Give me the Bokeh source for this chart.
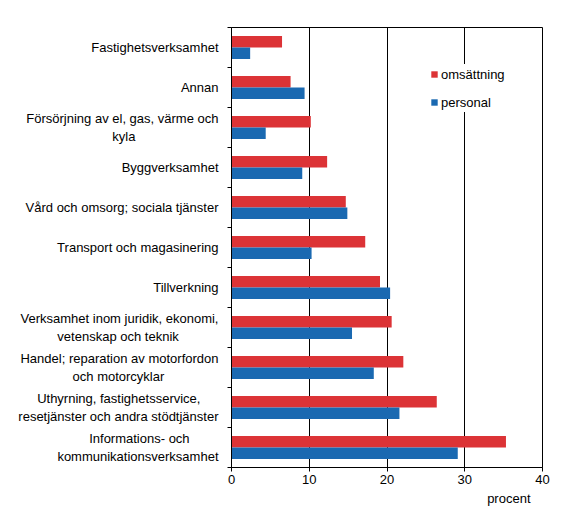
import numpy as np
from bokeh.embed import file_html
from bokeh.resources import INLINE
from bokeh.plotting import figure
from bokeh.models import ColumnDataSource, FixedTicker, Range1d, Legend, Title

# branscher, uppifrån och ned
branscher = [
    "Fastighetsverksamhet",
    "Annan",
    "Försörjning av el, gas, värme och\nkyla",
    "Byggverksamhet",
    "Vård och omsorg; sociala tjänster",
    "Transport och magasinering",
    "Tillverkning",
    "Verksamhet inom juridik, ekonomi,\nvetenskap och teknik",
    "Handel; reparation av motorfordon\noch motorcyklar",
    "Uthyrning, fastighetsservice,\nresetjänster och andra stödtjänster",
    "Informations- och\nkommunikationsverksamhet",
]
omsattning = [6.5, 7.6, 10.2, 12.3, 14.7, 17.2, 19.1, 20.6, 22.1, 26.4, 35.3]
personal = [2.4, 9.4, 4.4, 9.1, 14.9, 10.3, 20.4, 15.5, 18.3, 21.6, 29.1]
x_ticks = [0, 10, 20, 30, 40]

RED = "#dc3336"
BLUE = "#1a69b1"
FONT = "Liberation Sans"

# ungefärliga teckenbredder (Arial/Liberation Sans, 1/1000 em) för att
# centrera raderna i tvåradiga etiketter (axeln högerjusterar varje rad)
W = dict(zip(" ,;-", [278, 278, 278, 333]))
W.update({c: 556 for c in "abdeghnopquäöå"})
W.update({c: 500 for c in "cksvxyz"})
W.update({c: 222 for c in "ijl"})
W.update({"f": 278, "t": 278, "r": 333, "m": 833, "w": 722})
W.update({"F": 611, "V": 667, "H": 722, "U": 722, "I": 278, "T": 611, "B": 667, "A": 667})


def width(s):
    return sum(W.get(c, 556) for c in s)


def center_lines(label):
    lines = label.split("\n")
    if len(lines) == 1:
        return label
    wmax = max(width(l) for l in lines)
    out = []
    for l in lines:
        pad = int(round((wmax - width(l)) / 2 / 278))
        out.append(l + "\u00a0" * pad)
    return "\n".join(out)


n = len(branscher)
mid = np.arange(n) + 0.5
bar_h = 0.29

src = ColumnDataSource(data=dict(
    y_oms=mid - bar_h / 2,
    y_pers=mid + bar_h / 2,
    oms=omsattning,
    pers=personal,
))

p = figure(
    frame_width=311, frame_height=440,
    min_border_left=231, min_border_top=27, min_border_right=23, min_border_bottom=0,
    x_range=Range1d(0, 40), y_range=Range1d(n, 0),
    output_backend="svg", toolbar_location=None,
)

r1 = p.hbar(y="y_oms", right="oms", left=0, height=bar_h, source=src,
            fill_color=RED, line_color=None)
r2 = p.hbar(y="y_pers", right="pers", left=0, height=bar_h, source=src,
            fill_color=BLUE, line_color=None)

p.outline_line_color = "black"
p.outline_line_alpha = 1
p.ygrid.grid_line_color = None
p.xgrid.grid_line_color = "black"
p.xgrid.grid_line_alpha = 1

# x-axel
p.xaxis.ticker = FixedTicker(ticks=x_ticks)
p.xaxis.minor_tick_line_color = None
p.xaxis.major_tick_out = 4
p.xaxis.major_tick_in = 0
p.xaxis.major_label_standoff = 3
p.xaxis.axis_line_color = "black"
p.xaxis.major_tick_line_color = "black"
p.xaxis.major_label_text_font = FONT
p.xaxis.major_label_text_font_size = "13px"
p.xaxis.major_label_text_color = "black"

# y-axel: etiketter mitt i kategorin, streck mellan kategorierna
p.yaxis.ticker = FixedTicker(ticks=list(mid), minor_ticks=list(range(n + 1)))
p.yaxis.major_label_overrides = {float(m): center_lines(b) for m, b in zip(mid, branscher)}
p.yaxis.major_tick_line_color = None
p.yaxis.major_tick_out = 0
p.yaxis.major_tick_in = 0
p.yaxis.minor_tick_line_color = "black"
p.yaxis.minor_tick_out = 4
p.yaxis.minor_tick_in = 0
p.yaxis.major_label_standoff = 9
p.yaxis.axis_line_color = "black"
p.yaxis.major_label_text_font = FONT
p.yaxis.major_label_text_font_size = "13px"
p.yaxis.major_label_text_color = "black"

enhet = Title(text="procent", align="right", offset=12, standoff=5,
              text_font=FONT, text_font_size="13px", text_font_style="normal",
              text_color="black")
p.add_layout(enhet, "below")

legend = Legend(items=[("omsättning", [r1]), ("personal", [r2])], location=(199, 355))
legend.border_line_color = None
legend.background_fill_color = "white"
legend.background_fill_alpha = 1
legend.glyph_width = 8
legend.glyph_height = 8
legend.label_standoff = 3
legend.label_height = 20
legend.spacing = 8
legend.padding = 6
legend.margin = 0
legend.label_text_font = FONT
legend.label_text_font_size = "13px"
legend.label_text_color = "black"
p.add_layout(legend)

open("out.html", "w").write(file_html(p, INLINE))
